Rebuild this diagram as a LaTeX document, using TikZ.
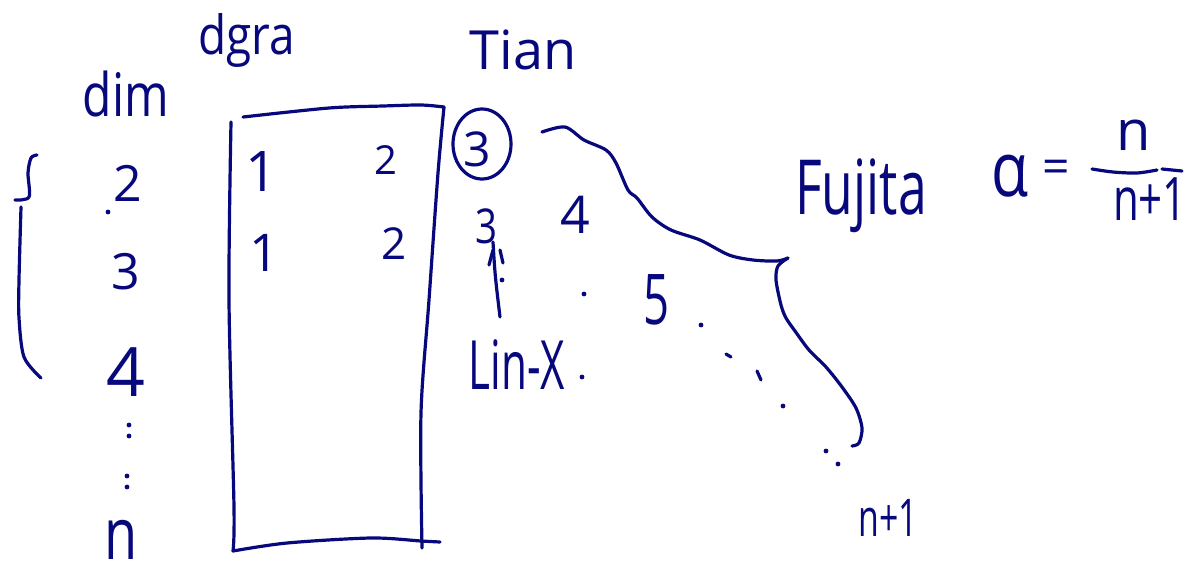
\documentclass[tikz,border=0pt]{standalone}
\usepackage{fontspec}
\setmainfont{Open Sans}
\usetikzlibrary{shapes.geometric}
\definecolor{ink}{RGB}{8,8,125}
\newcommand{\fsz}[1]{\fontsize{#1}{#1}\selectfont}
\begin{document}
\begin{tikzpicture}[x=0.5pt,y=-0.5pt,
  pen/.style={draw=ink,line width=1.6pt,line cap=round,line join=round},
  lbl/.style={text=ink,inner sep=0pt,outer sep=0pt},
  dotmark/.style={fill=ink,circle,inner sep=0pt,minimum size=2.4pt}]
\useasboundingbox[fill=white] (0,0) rectangle (1191,579);

% headings
\node[lbl,font=\fsz{27},xscale=0.85] (dgra) at (247,40) {dgra};
\node[lbl,font=\fsz{27}] (tian) at (523,50) {Tian};
\node[lbl,font=\fsz{30},xscale=0.8] (dim) at (126,94) {dim};

% dim column
\node[lbl,font=\fsz{25}] (d2) at (128,183) {2};
\node[dotmark] (dd) at (108,212) {};
\node[lbl,font=\fsz{25}] (d3) at (126,272) {3};
\node[lbl,font=\fsz{34}] (d4) at (126,372) {4};
\node[dotmark] (c1a) at (129,425) {};
\node[dotmark] (c1b) at (129,436) {};
\node[dotmark] (c2a) at (127,476) {};
\node[dotmark] (c2b) at (127,487) {};
\node[lbl,font=\fsz{36},xscale=0.75] (dn) at (121,540) {n};

% brace
\draw[pen] plot[smooth] coordinates {(37,155) (31,158) (28,173) (29,197) (15,200)};
\draw[pen] plot[smooth] coordinates {(21,207) (19,280) (19,318) (24,357) (41,378)};

% box
\draw[pen] plot[smooth] coordinates {(243,117) (329,108) (383,106) (421,105) (444,107)};
\draw[pen] plot[smooth] coordinates {(231,122) (229,300) (234,507) (233,551)};
\draw[pen] plot[smooth] coordinates {(233,551) (287,543) (371,538) (421,541) (440,542)};
\draw[pen] plot[smooth] coordinates {(444,107) (438,173) (429,300) (421,413) (422,548)};

\node[lbl,font=\fsz{28}] (b11) at (262,172) {1};
\node[lbl,font=\fsz{20}] (b12) at (386,160) {2};
\node[lbl,font=\fsz{26}] (b21) at (264,253) {1};
\node[lbl,font=\fsz{22}] (b22) at (394,244) {2};

% right of box
\node[draw=ink,line width=1.6pt,ellipse,minimum width=29pt,minimum height=35pt,inner sep=0pt] (circ) at (482,144) {};
\node[lbl,font=\fsz{24}] (c3) at (477,149) {3};
\node[lbl,font=\fsz{24},xscale=0.8] (s3) at (486,226) {3};
\draw[pen] (493,242) .. controls (495,275) .. (500,317);
\draw[pen] (489,265) -- (493,250);
\draw[pen] (500,250) -- (503,263);
\node[dotmark] (ad) at (502,280) {};
\node[lbl,font=\fsz{26}] (r4) at (575,215) {4};
\node[dotmark] (e1) at (584,294) {};
\node[lbl,font=\fsz{35},xscale=0.65] (five) at (657,300) {5};
\node[lbl,font=\fsz{34},xscale=0.62] (linx) at (517,365) {Lin-X};
\node[dotmark] (ld) at (582,377) {};

% dots to n+1
\node[dotmark] (e2) at (701,325) {};
\draw[pen] (726,354) -- (731,357);
\draw[pen] (757,371) -- (761,380);
\node[dotmark] (e3) at (783,406) {};
\node[dotmark] (e4) at (826,451) {};
\node[dotmark] (e5) at (838,464) {};
\node[lbl,font=\fsz{26},xscale=0.65] (np1) at (888,518) {n+1};

% big brace curve
\draw[pen] plot[smooth] coordinates {(542,132) (565,127) (584,140) (606,150) (616,163) (628,190) (637,198) (652,217) (671,230) (700,240) (729,255) (753,260) (777,261) (788,258)};
\draw[pen] plot[smooth] coordinates {(788,258) (778,266) (776,280) (781,305) (786,318) (795,331) (809,350) (826,367) (842,387) (856,408) (862,428) (859,443) (852,446)};

% Fujita and formula
\node[lbl,font=\fsz{38},xscale=0.68] (fuj) at (861,196) {Fujita};
\node[lbl,font=\fsz{38},xscale=0.8] (alpha) at (1010,176) {α};
\node[lbl,font=\fsz{24}] (eq) at (1056,172) {=};
\node[lbl,font=\fsz{28}] (fn) at (1134,135) {n};
\draw[pen] plot[smooth] coordinates {(1092,169) (1113,172) (1137,173) (1157,170)};
\draw[pen] (1162,169) -- (1182,171);
\node[lbl,font=\fsz{30},xscale=0.7] (fd) at (1150,199) {n+1};
\end{tikzpicture}
\end{document}
